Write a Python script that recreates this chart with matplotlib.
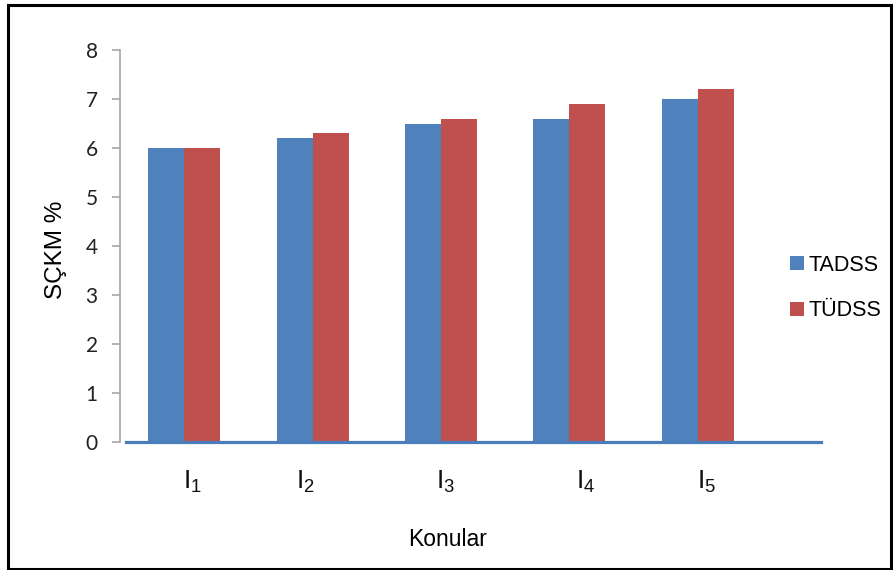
import matplotlib.pyplot as plt
import matplotlib.transforms as mtransforms
from matplotlib.patches import Rectangle
import numpy as np

plt.rcParams['font.family'] = ['Liberation Sans', 'DejaVu Sans']

konular = ['I_1', 'I_2', 'I_3', 'I_4', 'I_5']
tadss = [6.0, 6.2, 6.5, 6.6, 7.0]
tudss = [6.0, 6.3, 6.6, 6.9, 7.2]

# the label text boxes sit a little off the category centres
label_shift = [0.0, -0.12, -0.03, 0.06, 0.0]

blue = '#4F81BD'
red = '#C0504D'

W, H = 894, 570
fig = plt.figure(figsize=(W / 100, H / 100), dpi=100)
ax = fig.add_axes([120 / W, 128 / H, (821 - 120) / W, (520 - 128) / H])

x = np.arange(len(konular))
w = 0.28
ax.bar(x - w / 2, tadss, w, color=blue, label='TADSS', zorder=2)
ax.bar(x + w / 2, tudss, w, color=red, label='TÜDSS', zorder=2)

# plot area is 5 categories wide, the zero line runs past it
ax.set_xlim(-0.5, 4.5 + (821 - 762) / 128.5)
ax.set_ylim(0, 8)
ax.axhline(0, xmin=6 / 701, xmax=1, color='#4A7EBB', lw=2.3, zorder=3, clip_on=False)

for s in ['top', 'right', 'bottom']:
    ax.spines[s].set_visible(False)
ax.spines['left'].set_color('#A6A6A6')
ax.spines['left'].set_linewidth(1.2)
ax.set_xticks([])
ax.set_yticks(range(0, 9))
ax.tick_params(axis='y', direction='out', length=6, width=1.2, color='#A6A6A6',
               pad=10, labelsize=15, labelcolor='#222222')
for t in ax.get_yticklabels():
    t.set_fontfamily(['Lato', 'DejaVu Sans'])

trans = mtransforms.blended_transform_factory(ax.transData, fig.transFigure)
for i, lab in enumerate(konular):
    ax.text(i + label_shift[i] - 0.01, (H - 489) / H, r'$\mathregular{' + lab + '}$',
            transform=trans, ha='left', va='baseline', fontsize=19, color='#111111')

fig.text(448 / W, (H - 539) / H, 'Konular', ha='center', va='center', fontsize=16.5)
fig.text(56 / W, (H - 250) / H, 'SÇKM %', ha='center', va='center', rotation=90,
         fontsize=17.5)

ax.legend(loc='center left', bbox_to_anchor=(790 / W, (H - 288) / H),
          bbox_transform=fig.transFigure, frameon=False, fontsize=15.5,
          handlelength=0.65, handleheight=0.65, handletextpad=0.2, labelspacing=1.15,
          borderaxespad=0, borderpad=0)

fig.patches.append(Rectangle((8 / W, 1 / H), (891 - 8) / W, (565 - 1) / H,
                             transform=fig.transFigure, fill=False, ec='black', lw=2.2))

fig.savefig('out.png', dpi=100)
